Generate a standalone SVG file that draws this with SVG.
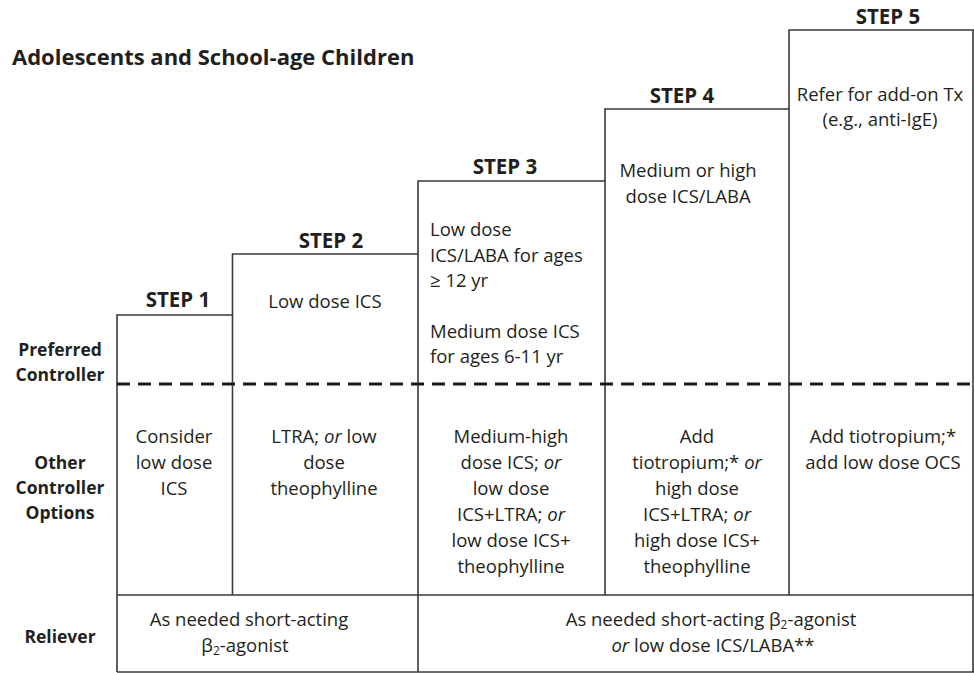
<svg xmlns="http://www.w3.org/2000/svg" width="974" height="673" viewBox="0 0 974 673">
<style>
text{font-family:"Open Sans","Noto Sans","Liberation Sans",sans-serif;fill:#231f20}
.t{font-size:18.5px;text-anchor:middle}
.l{font-size:18.5px;text-anchor:start}
.s{font-size:20.5px;font-weight:bold;text-anchor:middle}
.b{font-size:17.5px;font-weight:bold;text-anchor:middle}
.title{font-size:22px;font-weight:bold}
.ln{stroke:#3a3a3a;stroke-width:1.6;fill:none}
.dash{stroke:#1a1a1a;stroke-width:3;stroke-dasharray:13 8;fill:none}
.sub{font-size:12px}
</style>
<rect width="974" height="673" fill="#fff"/>
<text class="title" x="12" y="65">Adolescents and School-age Children</text>
<g id="connectors">
<path class="ln" d="M117,672 V315 H232.5 V254 H418 V181 H605 V109 H789 V30 H974"/>
<path class="ln" d="M232.5,315 V595 M418,254 V672 M605,181 V595 M789,109 V595 M973,30 V672"/>
<path class="ln" d="M117,595 H974 M117,672 H974"/>
<path class="dash" d="M117,384 H974"/>
</g>
<g id="labels">
<text class="b" x="60" y="356">Preferred</text>
<text class="b" x="60" y="381">Controller</text>
<text class="b" x="60" y="469">Other</text>
<text class="b" x="60" y="494">Controller</text>
<text class="b" x="60" y="519">Options</text>
<text class="b" x="60" y="643">Reliever</text>
</g>
<g id="step1">
<text class="s" x="178" y="307">STEP 1</text>
<text class="t" x="174" y="443">Consider</text>
<text class="t" x="174" y="469">low dose</text>
<text class="t" x="174" y="495">ICS</text>
</g>
<g id="step2">
<text class="s" x="331" y="248">STEP 2</text>
<text class="t" x="325" y="308">Low dose ICS</text>
<text class="t" x="324" y="443">LTRA; <tspan font-style="italic">or</tspan> low</text>
<text class="t" x="324" y="469">dose</text>
<text class="t" x="324" y="495">theophylline</text>
</g>
<g id="step3">
<text class="s" x="505" y="174">STEP 3</text>
<text class="l" x="430" y="236">Low dose</text>
<text class="l" x="430" y="262">ICS/LABA for ages</text>
<text class="l" x="430" y="287">≥ 12 yr</text>
<text class="l" x="430" y="338">Medium dose ICS</text>
<text class="l" x="430" y="363">for ages 6-11 yr</text>
<text class="t" x="511" y="443">Medium-high</text>
<text class="t" x="511" y="469">dose ICS; <tspan font-style="italic">or</tspan></text>
<text class="t" x="511" y="495">low dose</text>
<text class="t" x="511" y="521">ICS+LTRA; <tspan font-style="italic">or</tspan></text>
<text class="t" x="511" y="547">low dose ICS+</text>
<text class="t" x="511" y="573">theophylline</text>
</g>
<g id="step4">
<text class="s" x="682" y="103">STEP 4</text>
<text class="t" x="688" y="177">Medium or high</text>
<text class="t" x="688" y="203">dose ICS/LABA</text>
<text class="t" x="697" y="443">Add</text>
<text class="t" x="697" y="469">tiotropium;* <tspan font-style="italic">or</tspan></text>
<text class="t" x="697" y="495">high dose</text>
<text class="t" x="697" y="521">ICS+LTRA; <tspan font-style="italic">or</tspan></text>
<text class="t" x="697" y="547">high dose ICS+</text>
<text class="t" x="697" y="573">theophylline</text>
</g>
<g id="step5">
<text class="s" x="888" y="24">STEP 5</text>
<text class="t" x="880" y="101">Refer for add-on Tx</text>
<text class="t" x="880" y="126">(e.g., anti-IgE)</text>
<text class="t" x="883" y="443">Add tiotropium;*</text>
<text class="t" x="883" y="469">add low dose OCS</text>
</g>
<g id="reliever1">
<text class="t" x="249" y="626">As needed short-acting</text>
<text class="t" x="245" y="652">β<tspan class="sub" baseline-shift="-3">2</tspan>-agonist</text>
</g>
<g id="reliever2">
<text class="t" x="711" y="626">As needed short-acting β<tspan class="sub" baseline-shift="-3">2</tspan>-agonist</text>
<text class="t" x="713" y="652"><tspan font-style="italic">or</tspan> low dose ICS/LABA**</text>
</g>
</svg>
